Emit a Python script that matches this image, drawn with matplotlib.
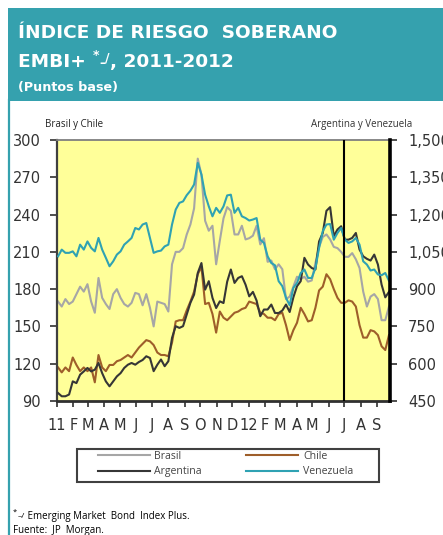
import matplotlib
matplotlib.use("Agg")
import matplotlib.pyplot as plt
from matplotlib.patches import Rectangle
import pandas as pd

# ---------------- data (weekly readings, Jan 2011 - Sep 2012) ----------------
start_date = "2011-01-03"
n_weeks = 91

brasil = [170, 166, 172, 168, 170, 176, 182, 178, 184, 170, 161, 189, 173, 168, 164, 176, 180, 173, 168, 166, 169, 177, 176, 167,
          176, 165, 150, 170, 169, 168, 162, 200, 210, 210, 213, 224, 232, 245, 285, 272, 235, 227, 231, 200, 219, 237, 246,
          243, 224, 224, 231, 220, 221, 223, 231, 216, 221, 202, 203, 196, 200, 196, 172, 174, 182, 190, 188, 190, 186, 187,
          201, 214, 222, 224, 220, 214, 213, 210, 206, 206, 209, 204, 197, 178, 166, 174, 176, 172, 155, 155, 166]

chile = [117, 113, 117, 114, 125, 119, 114, 117, 114, 117, 105, 127, 117, 114, 119, 119, 122, 123, 125, 127, 125, 129, 133, 136,
         139, 138, 135, 129, 127, 127, 126, 137, 154, 155, 155, 163, 170, 178, 192, 198, 168, 169, 160, 145, 162, 157, 155,
         158, 161, 162, 164, 165, 170, 169, 168, 161, 160, 157, 157, 155, 160, 161, 151, 139, 147, 153, 165, 160, 154, 155,
         165, 179, 182, 192, 188, 180, 173, 169, 169, 171, 170, 166, 151, 141, 141, 147, 146, 143, 134, 131, 143]

argentina = [482, 469, 469, 476, 529, 522, 556, 569, 583, 569, 576, 603, 562, 529, 509, 529, 549, 562, 583, 596, 603, 596, 607, 615,
             630, 623, 570, 596, 617, 590, 610, 704, 751, 744, 751, 798, 845, 878, 965, 1005, 898, 932, 865, 824, 851, 844, 930,
             979, 925, 945, 952, 918, 871, 889, 854, 791, 818, 818, 838, 804, 804, 814, 838, 808, 867, 912, 932, 1026, 999, 985,
             979, 1092, 1126, 1215, 1230, 1113, 1140, 1153, 1099, 1099, 1106, 1126, 1059, 1032, 1022, 1015, 1039, 999, 918, 867, 889]

venezuela = [1032, 1059, 1046, 1046, 1052, 1032, 1079, 1059, 1092, 1066, 1052, 1106, 1059, 1026, 992, 1012, 1039, 1052, 1079, 1092, 1106, 1146, 1140, 1160,
             1166, 1106, 1046, 1052, 1055, 1072, 1079, 1160, 1220, 1247, 1253, 1278, 1296, 1321, 1408, 1361, 1280, 1233, 1193, 1227, 1207, 1233, 1277,
             1280, 1207, 1227, 1193, 1186, 1176, 1180, 1186, 1099, 1086, 1032, 1005, 996, 932, 912, 865, 835, 905, 925, 965, 979, 945, 945,
             985, 1066, 1133, 1160, 1162, 1099, 1126, 1146, 1099, 1086, 1092, 1106, 1079, 1012, 999, 975, 979, 959, 956, 965, 934]

month_labels = ["11", "F", "M", "A", "M", "J", "J", "A", "S", "O", "N", "D",
                "12", "F", "M", "A", "M", "J", "J", "A", "S"]
left_ticks = [90, 120, 150, 180, 210, 240, 270, 300]
right_ticks = [450, 600, 750, 900, 1050, 1200, 1350, 1500]

dates = pd.date_range(start_date, periods=n_weeks, freq="7D")
month_ticks = pd.date_range("2011-01-01", periods=len(month_labels), freq="MS")

# ---------------- figure ----------------
W, H = 443, 535
fig = plt.figure(figsize=(W / 100, H / 100), dpi=100)
teal = "#35A1AE"

bg = fig.add_axes([0, 0, 1, 1], zorder=0)
bg.set_xlim(0, W)
bg.set_ylim(H, 0)
bg.axis("off")
bg.add_patch(Rectangle((8, 8), 445, 93, facecolor=teal, edgecolor="none"))
bg.plot([9.5, 9.5], [100, H], color=teal, lw=1.6)

hfont = "DejaVu Sans"
txt_font = "Open Sans"
# header texts
bg.text(18, 37.5, "ÍNDICE DE RIESGO  SOBERANO", color="white", fontsize=13.3,
        fontweight="bold", family=hfont, va="baseline", ha="left")
t1 = bg.text(18, 67, "EMBI+ ", color="white", fontsize=13.3, fontweight="bold",
             family=hfont, va="baseline", ha="left")
t2 = bg.annotate("*", xy=(1, 67), xycoords=(t1, "data"), xytext=(0, 6),
                 textcoords="offset points", color="white", fontsize=9,
                 fontweight="bold", family=hfont, va="baseline", ha="left")
t3 = bg.annotate("–", xy=(1, 67), xycoords=(t2, "data"), color="white",
                 fontsize=9, fontweight="bold", family=hfont, va="baseline", ha="left")
t4 = bg.annotate("/", xy=(1, 67), xycoords=(t3, "data"), xytext=(0, 4),
                 textcoords="offset points", color="white",
                 fontsize=9, fontweight="bold", family=hfont, va="baseline", ha="left")
bg.annotate(", 2011-2012", xy=(1, 67), xycoords=(t4, "data"), color="white",
            fontsize=13.3, fontweight="bold", family=hfont, va="baseline", ha="left")
bg.text(18, 90.5, "(Puntos base)", color="white", fontsize=9.2, fontweight="bold",
        family=hfont, va="baseline", ha="left")

# axis captions
bg.text(45, 124, "Brasil y Chile", color="#222222", fontsize=7, family=txt_font,
        va="center", ha="left")
bg.text(412, 124, "Argentina y Venezuela", color="#333333", fontsize=7, family=txt_font,
        va="center", ha="right")

# footnotes
f1 = bg.text(13, 514, "*", color="black", fontsize=5.5, family=txt_font, va="baseline", ha="left")
f2 = bg.annotate("–/", xy=(1, 518), xycoords=(f1, "data"), color="black", fontsize=6,
                 family=txt_font, va="baseline", ha="left")
bg.annotate(" Emerging Market  Bond  Index Plus.", xy=(1, 519), xycoords=(f2, "data"),
            color="black", fontsize=7, family=txt_font, va="baseline", ha="left")
bg.text(13, 533, "Fuente:  JP  Morgan.", color="black", fontsize=7, family=txt_font,
        va="baseline", ha="left")

# ---------------- main axes ----------------
ax = fig.add_axes([57 / W, 1 - 401 / H, 333 / W, 261 / H], zorder=2)
ax.set_facecolor("#FFFF99")
ax2 = ax.twinx()

l_br, = ax.plot(dates, brasil, color="#A6A6A6", lw=1.5, label="Brasil")
l_ch, = ax.plot(dates, chile, color="#9E5E2A", lw=1.5, label="Chile")
l_ar, = ax2.plot(dates, argentina, color="#363636", lw=1.5, label="Argentina")
l_ve, = ax2.plot(dates, venezuela, color="#2FA2B3", lw=1.5, label="Venezuela")

ax2.axvline(pd.Timestamp("2012-07-01"), color="black", lw=1.5, zorder=5)

ax.set_xlim(pd.Timestamp("2011-01-01"), pd.Timestamp("2012-09-26"))
ax.set_ylim(left_ticks[0], left_ticks[-1])
ax2.set_ylim(right_ticks[0], right_ticks[-1])

ax.set_yticks(left_ticks)
ax.set_yticklabels([str(v) for v in left_ticks])
ax2.set_yticks(right_ticks)
ax2.set_yticklabels([f"{v:,}" for v in right_ticks])
ax.set_xticks(month_ticks)
ax.set_xticklabels(month_labels)

tick_col = "#333333"
ax.tick_params(axis="y", direction="out", length=5, width=1.3, color="#404040",
               labelsize=10.5, labelcolor=tick_col, pad=6.5)
ax.tick_params(axis="x", direction="out", length=4, width=1.3, color="#404040",
               labelsize=10.5, labelcolor=tick_col, pad=8.5)
ax2.tick_params(axis="y", direction="out", length=5, width=1.3, color="#404040",
                labelsize=10.5, labelcolor=tick_col, pad=8)
for lab in ax.get_xticklabels() + ax.get_yticklabels() + ax2.get_yticklabels():
    lab.set_family("DejaVu Sans")

ax.spines["left"].set_color("#404040")
ax.spines["left"].set_linewidth(1.6)
ax.spines["bottom"].set_color("#303030")
ax.spines["bottom"].set_linewidth(2)
ax.spines["top"].set_color("#7F7F7F")
ax.spines["top"].set_linewidth(1.3)
ax.spines["right"].set_visible(False)
for s in ["left", "top", "bottom"]:
    ax2.spines[s].set_visible(False)
ax2.spines["right"].set_color("black")
ax2.spines["right"].set_linewidth(2.6)

# ---------------- legend ----------------
bg.add_patch(Rectangle((77, 449), 302, 33, facecolor="white", edgecolor="#404040", lw=1.5))
leg = fig.legend([l_br, l_ar, l_ch, l_ve], ["Brasil", "Argentina", "Chile", "Venezuela"],
                 ncol=2, loc="upper left", bbox_to_anchor=(98 / W, 1 - 451 / H),
                 borderaxespad=0, borderpad=0, frameon=False, handlelength=4.9,
                 handletextpad=0.45, labelspacing=0.42, columnspacing=4.2,
                 prop={"family": txt_font, "size": 7.6})
for t in leg.get_texts():
    t.set_color("#444444")

fig.savefig("out.png", dpi=100)
